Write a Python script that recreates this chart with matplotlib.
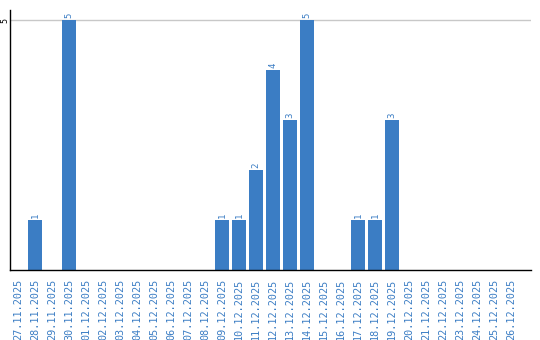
import matplotlib
matplotlib.use("Agg")
import matplotlib.pyplot as plt

dates = ["27.11.2025", "28.11.2025", "29.11.2025", "30.11.2025", "01.12.2025",
         "02.12.2025", "03.12.2025", "04.12.2025", "05.12.2025", "06.12.2025",
         "07.12.2025", "08.12.2025", "09.12.2025", "10.12.2025", "11.12.2025",
         "12.12.2025", "13.12.2025", "14.12.2025", "15.12.2025", "16.12.2025",
         "17.12.2025", "18.12.2025", "19.12.2025", "20.12.2025", "21.12.2025",
         "22.12.2025", "23.12.2025", "24.12.2025", "25.12.2025", "26.12.2025"]
counts = [0, 1, 0, 5, 0, 0, 0, 0, 0, 0, 0, 0, 1, 1, 2, 4, 3, 5, 0, 0, 1, 1, 3, 0, 0, 0, 0, 0, 0, 0]
y_ticks = [5]

bar_color = "#3b7dc4"
label_color = "#3b7dc4"

fig = plt.figure(figsize=(5.4, 3.4), dpi=100)
ax = fig.add_axes([10/540, 70/340, 521/540, 260/340])

x = list(range(len(dates)))
bars = ax.bar(x, counts, width=0.82, color=bar_color, zorder=2)
for xi, v in zip(x, counts):
    if v > 0:
        ax.text(xi, v + 0.04, str(v), rotation=90, ha="center", va="bottom",
                fontsize=6.5, color=label_color, family="DejaVu Sans Mono")

ax.set_xlim(-0.47, 30.18)
ax.set_ylim(0, 5.2)
ax.set_yticks(y_ticks)
ax.set_yticklabels([str(t) for t in y_ticks], rotation=90, va="center",
                   fontsize=6, family="DejaVu Sans Mono")
ax.set_xticks(x)
ax.set_xticklabels(dates, rotation=90, fontsize=7.3, color="#3b7dc4",
                   family="DejaVu Sans Mono")
ax.tick_params(axis="both", length=0)
ax.tick_params(axis="y", pad=0.5)
ax.tick_params(axis="x", pad=6)
ax.yaxis.grid(True, color="#c8c8c8", linewidth=1, zorder=0)
ax.spines["top"].set_visible(False)
ax.spines["right"].set_visible(False)
ax.spines["left"].set_color("black")
ax.spines["bottom"].set_color("black")
ax.spines["left"].set_linewidth(1.0)
ax.spines["bottom"].set_linewidth(1.0)

fig.savefig("out.png", dpi=100)
